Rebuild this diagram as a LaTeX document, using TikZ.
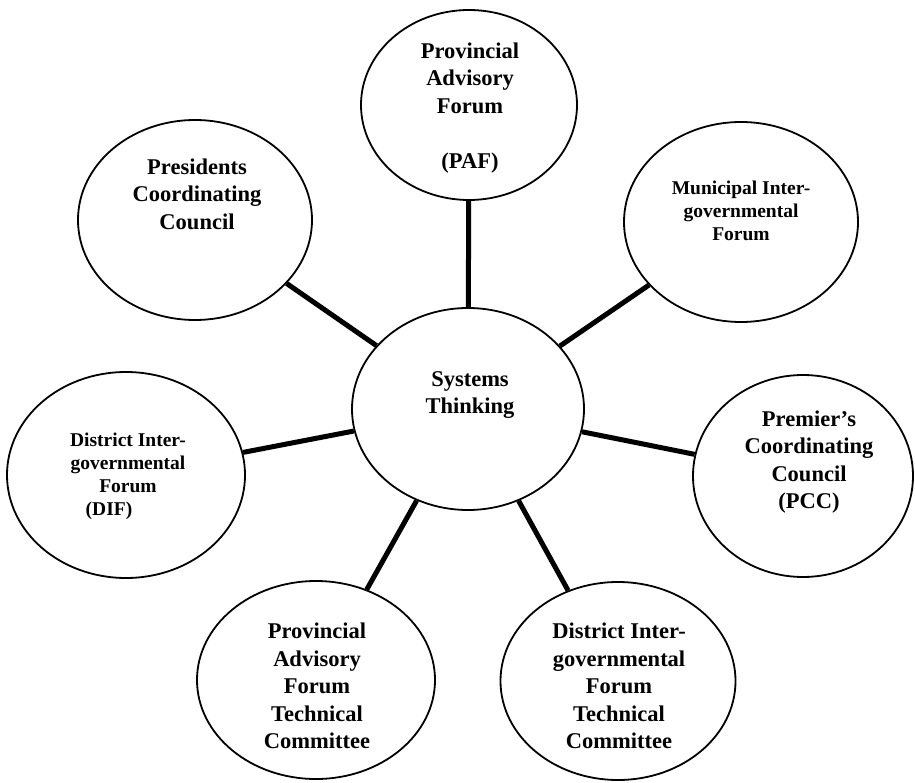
\documentclass[tikz,border=0pt]{standalone}
\usepackage{fontspec}
\setmainfont{Liberation Serif}
\usetikzlibrary{shapes.geometric}
\tikzset{
  bub/.style={ellipse, draw=black, line width=1.8pt, fill=white, inner sep=0pt},
  conn/.style={line width=5pt, draw=black},
  big/.style={align=center, inner sep=0pt, font=\fontsize{22.5pt}{27.5pt}\selectfont\bfseries},
  small/.style={align=center, inner sep=0pt, font=\fontsize{19.5pt}{23pt}\selectfont\bfseries}
}
\begin{document}
\begin{tikzpicture}[x=1pt,y=-1pt]
\useasboundingbox[fill=white] (0,0) rectangle (915,783);
% ellipses
\node[bub, minimum width=232pt, minimum height=202pt] (ctr) at (468,409) {};
\node[bub, minimum width=216pt, minimum height=190pt] (paf) at (469,105) {};
\node[bub, minimum width=234pt, minimum height=200pt] (pres) at (195,220) {};
\node[bub, minimum width=234pt, minimum height=200pt] (muni) at (741,222) {};
\node[bub, minimum width=220pt, minimum height=202pt] (pcc) at (803,476) {};
\node[bub, minimum width=238pt, minimum height=206pt] (dif) at (126,475) {};
\node[bub, minimum width=238pt, minimum height=198pt] (paftc) at (316,680) {};
\node[bub, minimum width=235pt, minimum height=198pt] (diftc) at (618,681) {};
% connectors
\draw[conn] (ctr) -- (paf);
\draw[conn] (ctr) -- (pres);
\draw[conn] (ctr) -- (muni);
\draw[conn] (ctr) -- (pcc);
\draw[conn] (ctr) -- (dif);
\draw[conn] (ctr) -- (paftc);
\draw[conn] (ctr) -- (diftc);
% labels
\node[big] (ctrT) at (470,395) {Systems\\Thinking};
\node[big] (pafT) at (470,108) {Provincial\\Advisory\\Forum\\~\\(PAF)};
\node[big] (presT) at (197,194) {Presidents\\Coordinating\\Council};
\node[small] (muniT) at (741,211) {Municipal Inter-\\governmental\\Forum};
\node[big] (pccT) at (809,462) {Premier’s\\Coordinating\\Council\\(PCC)};
\node[small] (difT) at (128,476) {District Inter-\\governmental\\Forum\\(DIF)\hspace*{38pt}};
\node[big] (paftcT) at (317,686) {Provincial\\Advisory\\Forum\\Technical\\Committee};
\node[big] (diftcT) at (619,686) {District Inter-\\governmental\\Forum\\Technical\\Committee};
\end{tikzpicture}
\end{document}
